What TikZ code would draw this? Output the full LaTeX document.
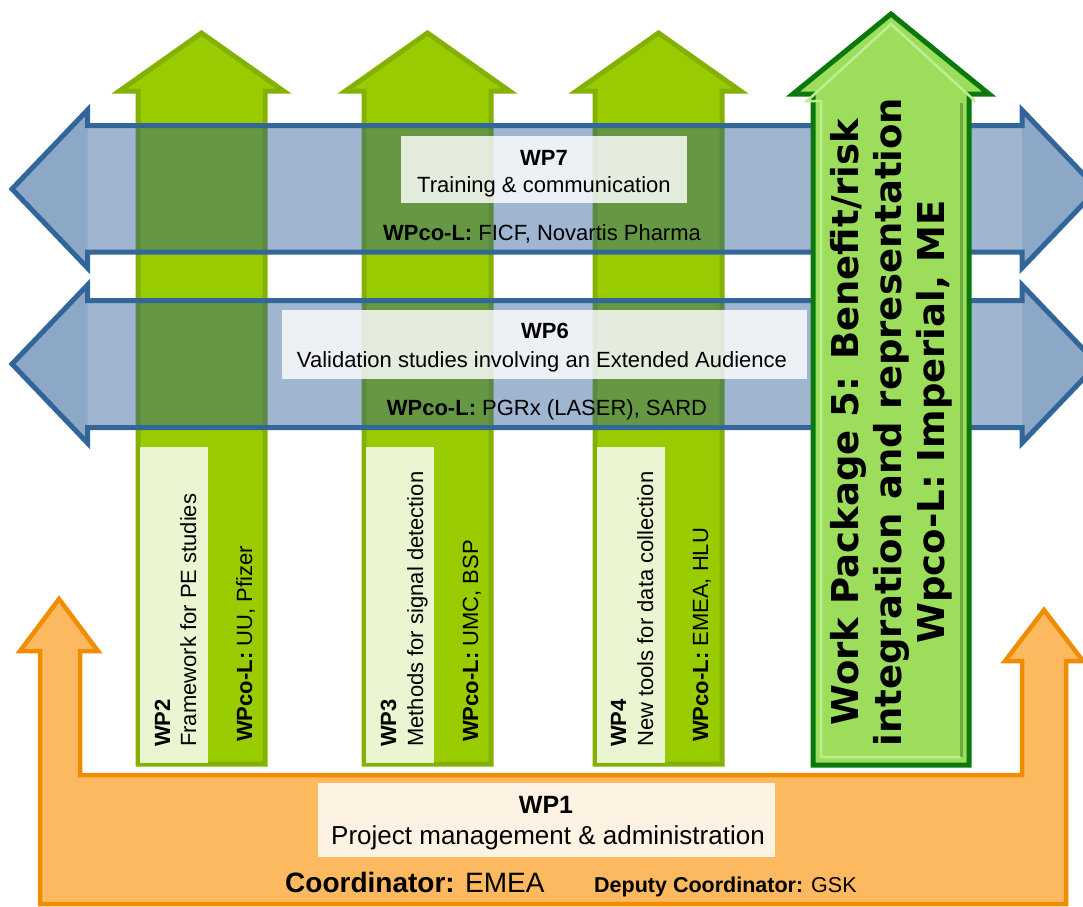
\documentclass[tikz,border=0pt]{standalone}
\usepackage{fontspec}
\setmainfont{Liberation Sans}
\newfontfamily\wpfont{DejaVu Sans}

\definecolor{wpgreen}{HTML}{99CC00}
\definecolor{wpgreenline}{HTML}{84B000}
\definecolor{wpblue}{HTML}{2A5A96}
\definecolor{wpblueline}{HTML}{336699}
\definecolor{wporange}{HTML}{FCB960}
\definecolor{wporangeline}{HTML}{F08C00}
\definecolor{bigfill}{HTML}{9CDD5C}
\definecolor{bigline}{HTML}{0A780A}
\definecolor{biglight}{HTML}{BDEE92}
\definecolor{bigdark}{HTML}{4F8A2C}

\begin{document}
\begin{tikzpicture}[x=1pt,y=-1pt,
  greenarrow/.style={fill=wpgreen,draw=wpgreenline,line width=5pt,line join=miter},
  bluearrow/.style={fill=wpblue,fill opacity=0.45,draw=wpblueline,line width=5pt,line join=miter},
  orangearrow/.style={fill=wporange,draw=wporangeline,line width=4.5pt,line join=miter},
  bigarrow/.style={fill=bigfill,draw=bigline,line width=5pt,line join=miter},
  whitebox/.style={fill=white,fill opacity=0.82},
  wptext/.style={inner sep=0pt,font=\fontsize{22}{26}\selectfont},
  wptitle/.style={inner sep=0pt,font=\fontsize{22}{26}\selectfont\bfseries},
  bigtext/.style={inner sep=0pt,align=center,font=\wpfont\bfseries\fontsize{37}{43}\selectfont}]

\useasboundingbox (0,0) rectangle (1083,906);
\clip (0,0) rectangle (1083,906);

% green arrows WP2 - WP4
\draw[greenarrow] (138,764) -- (138,91) -- (119.5,91) -- (201.5,33) -- (283.5,91) -- (265,91) -- (265,764) -- cycle;
\draw[greenarrow] (364,764) -- (364,91) -- (345.5,91) -- (427.5,33) -- (509.5,91) -- (491,91) -- (491,764) -- cycle;
\draw[greenarrow] (595,764) -- (595,91) -- (576.5,91) -- (658.5,33) -- (740.5,91) -- (722,91) -- (722,764) -- cycle;

% blue arrows WP7, WP6
\draw[bluearrow] (12,189) -- (87.5,110) -- (87.5,125.5) -- (1022,125.5) -- (1022,110) -- (1097.5,189)
  -- (1022,268) -- (1022,252) -- (87.5,252) -- (87.5,268) -- cycle;
\draw[bluearrow] (12,364) -- (87.5,285) -- (87.5,300.5) -- (1022,300.5) -- (1022,285) -- (1097.5,364)
  -- (1022,443) -- (1022,427.5) -- (87.5,427.5) -- (87.5,443) -- cycle;
% darker heads
\fill[wpblue,opacity=0.15] (12,189) -- (87.5,110) -- (87.5,268) -- cycle;
\fill[wpblue,opacity=0.15] (12,364) -- (87.5,285) -- (87.5,443) -- cycle;
\fill[wpblue,opacity=0.15] (1022,110) -- (1097.5,189) -- (1022,268) -- cycle;
\fill[wpblue,opacity=0.15] (1022,285) -- (1097.5,364) -- (1022,443) -- cycle;

\fill[whitebox] (401,136) rectangle (687,203);
\node[wptitle,anchor=base] (wp7) at (544,165) {WP7};
\node[wptext,anchor=base] (wp7d) at (544,192) {Training \& communication};
\node[wptext,anchor=base] (wp7l) at (542,240) {\textbf{WPco-L:} FICF, Novartis Pharma};

\fill[whitebox] (282,310) rectangle (807,379);
\node[wptitle,anchor=base] (wp6) at (545,338) {WP6};
\node[wptext,anchor=base] (wp6d) at (542,367) {Validation studies involving an Extended Audience};
\node[wptext,anchor=base] (wp6l) at (547,415) {\textbf{WPco-L:} PGRx (LASER), SARD};

% WP5
\draw[bigarrow] (813,765) -- (813,94) -- (793,94) -- (891,14) -- (989,94) -- (969,94) -- (969,765) -- cycle;
\draw[biglight,line width=2.5pt] (961,757) -- (821,757) -- (821,101) -- (807,101) -- (891,24) -- (975,101);
\draw[bigdark,line width=3pt,opacity=0.6] (961,103) -- (961,757);
\node[bigtext,rotate=90] (wp5) at (891,422) {Work Package 5: Benefit/risk\\integration and representation\\Wpco-L: Imperial, ME};

% WP2 - WP4 labels
\fill[whitebox] (140,447) rectangle (208,763);
\node[wptitle,rotate=90,anchor=base west] (wp2) at (170,747) {WP2};
\node[wptext,rotate=90,anchor=base west] (wp2d) at (196,747) {Framework for PE studies};
\node[wptext,rotate=90,anchor=base west] (wp2l) at (252,742) {\textbf{WPco-L:} UU, Pfizer};

\fill[whitebox] (366,447) rectangle (434,763);
\node[wptitle,rotate=90,anchor=base west] (wp3) at (396,747) {WP3};
\node[wptext,rotate=90,anchor=base west] (wp3d) at (423,747) {Methods for signal detection};
\node[wptext,rotate=90,anchor=base west] (wp3l) at (478,742) {\textbf{WPco-L:} UMC, BSP};

\fill[whitebox] (597,447) rectangle (665,763);
\node[wptitle,rotate=90,anchor=base west] (wp4) at (626,747) {WP4};
\node[wptext,rotate=90,anchor=base west] (wp4d) at (653,747) {New tools for data collection};
\node[wptext,rotate=90,anchor=base west] (wp4l) at (708,742) {\textbf{WPco-L:} EMEA, HLU};

% WP1
\draw[orangearrow] (40,904) -- (40,651) -- (20,651) -- (59,599) -- (98,651) -- (80,651) -- (80,775)
  -- (1022,775) -- (1022,661) -- (1005,661) -- (1044,610) -- (1083,661) -- (1066,661) -- (1066,904) -- cycle;
\fill[whitebox] (318,783) rectangle (775,857);
\node[wptitle,anchor=base,font=\fontsize{25}{30}\selectfont\bfseries] (wp1) at (546,813) {WP1};
\node[wptext,anchor=base,font=\fontsize{26}{30}\selectfont] (wp1d) at (548,844) {Project management \& administration};
\node[wptext,anchor=base west,font=\fontsize{28}{32}\selectfont] (coord) at (285,892) {\textbf{Coordinator:} EMEA};
\node[wptext,anchor=base west,font=\fontsize{21.5}{26}\selectfont] (deputy) at (594,892) {\textbf{Deputy Coordinator:} GSK};

\end{tikzpicture}
\end{document}
